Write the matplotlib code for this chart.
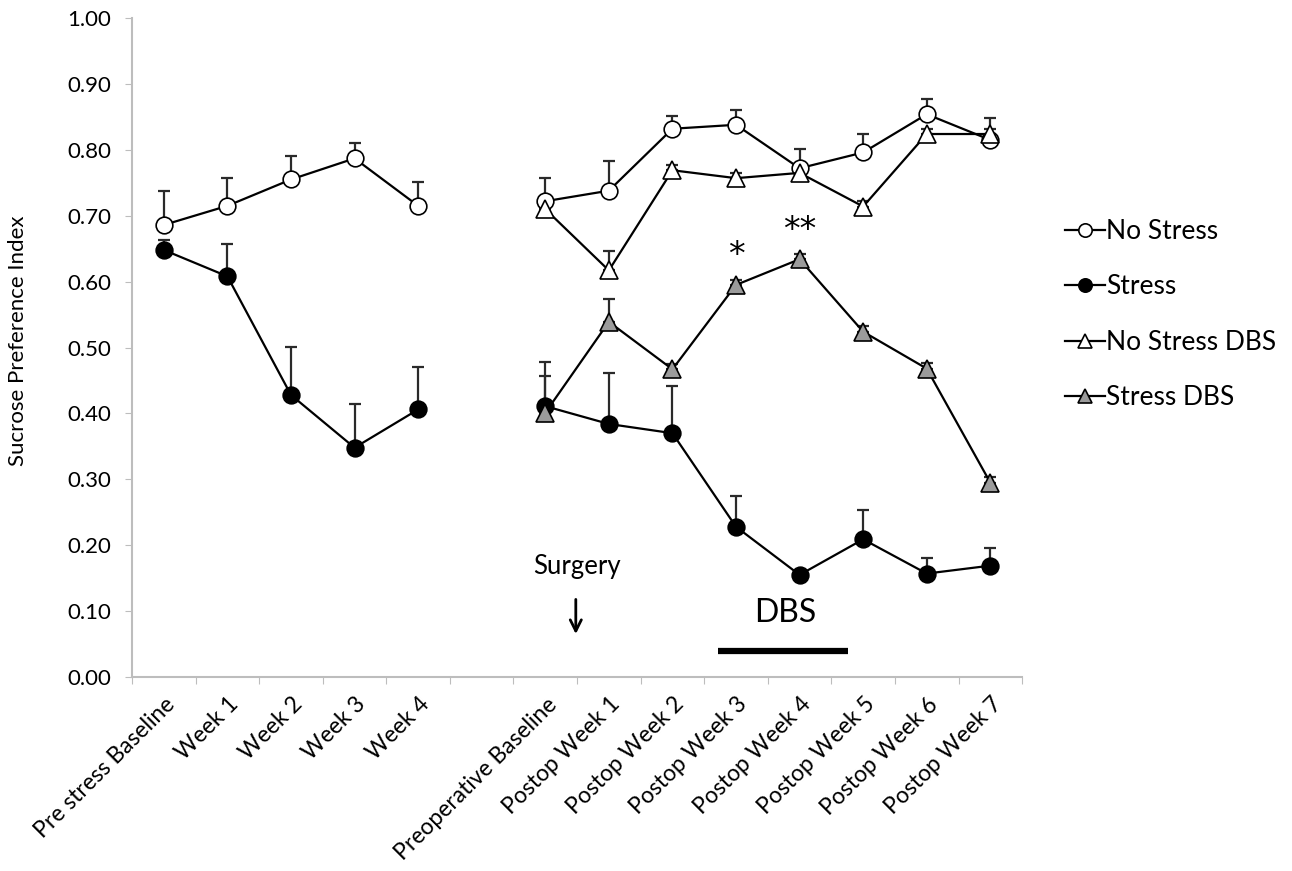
import numpy as np
import matplotlib
matplotlib.use("Agg")
import matplotlib.pyplot as plt
from matplotlib.transforms import ScaledTranslation

plt.rcParams['font.family'] = ['Lato', 'DejaVu Sans']

nan = np.nan

# categories (index 5 is the blank gap between the two phases)
categories = ['Pre stress Baseline', 'Week 1', 'Week 2', 'Week 3', 'Week 4', '',
              'Preoperative Baseline', 'Postop Week 1', 'Postop Week 2', 'Postop Week 3',
              'Postop Week 4', 'Postop Week 5', 'Postop Week 6', 'Postop Week 7']

# series values
no_stress = [0.686, 0.715, 0.755, 0.787, 0.715, nan,
             0.722, 0.738, 0.832, 0.838, 0.772, 0.796, 0.854, 0.815]
no_stress_err = [0.051, 0.043, 0.036, 0.024, 0.036, nan,
                 0.036, 0.045, 0.020, 0.022, 0.029, 0.028, 0.023, 0.034]
stress = [0.648, 0.608, 0.428, 0.348, 0.406, nan,
          0.411, 0.384, 0.370, 0.228, 0.155, 0.209, 0.157, 0.169]
stress_err = [0.015, 0.049, 0.073, 0.066, 0.065, nan,
              0.067, 0.078, 0.072, 0.047, 0.005, 0.045, 0.023, 0.027]
no_stress_dbs = [nan, nan, nan, nan, nan, nan,
                 0.710, 0.617, 0.769, 0.757, 0.765, 0.714, 0.824, 0.824]
no_stress_dbs_err = [nan, nan, nan, nan, nan, nan,
                     0.015, 0.029, 0.008, 0.008, 0.010, 0.008, 0.008, 0.008]
stress_dbs = [nan, nan, nan, nan, nan, nan,
              0.401, 0.539, 0.467, 0.595, 0.634, 0.524, 0.468, 0.295]
stress_dbs_err = [nan, nan, nan, nan, nan, nan,
                  0.056, 0.035, 0.008, 0.008, 0.008, 0.008, 0.008, 0.008]

x = np.arange(len(categories))

fig = plt.figure(figsize=(12.92, 8.71), dpi=100)
ax = fig.add_axes([0.1022, 0.2227, 0.6889, 0.7566])

series = [
    ('No Stress', no_stress, no_stress_err, 'o', 'white', 12),
    ('Stress', stress, stress_err, 'o', 'black', 12),
    ('No Stress DBS', no_stress_dbs, no_stress_dbs_err, '^', 'white', 12.5),
    ('Stress DBS', stress_dbs, stress_dbs_err, '^', '#9b9b9b', 12.5),
]

# error bars first (upper only), behind markers
for name, vals, errs, mk, fc, ms in series:
    v = np.array(vals, dtype=float)
    e = np.array(errs, dtype=float)
    ax.errorbar(x, v, yerr=[np.zeros_like(e), e], fmt='none', ecolor='#2a2a2a',
                elinewidth=1.6, capsize=4, capthick=1.6, zorder=1)

handles = []
for name, vals, errs, mk, fc, ms in series:
    h, = ax.plot(x, vals, color='black', lw=1.6, marker=mk, markersize=ms,
                 markerfacecolor=fc, markeredgecolor='black', markeredgewidth=1.2,
                 zorder=3, label=name)
    handles.append(h)

ax.set_xlim(-0.5, len(categories) - 0.5)
ax.set_ylim(0, 1.0)
ax.set_yticks(np.arange(0, 1.01, 0.1))
ax.set_yticklabels([f'{v:.2f}' for v in np.arange(0, 1.01, 0.1)], fontsize=16)
ax.set_ylabel('Sucrose Preference Index', fontsize=16)
ax.yaxis.set_label_coords(-0.117, 0.51)

# ticks between categories, labels at category centres
ax.set_xticks(np.arange(-0.5, len(categories), 1.0))
ax.set_xticklabels([])
ax.set_xticks(x, minor=True)
ax.set_xticklabels(categories, minor=True, rotation=45, ha='right',
                   rotation_mode='anchor', fontsize=16.5)
ax.tick_params(axis='x', which='minor', length=0, pad=12)
ax.tick_params(axis='x', which='major', length=5, color='#bdbdbd', direction='out')
ax.tick_params(axis='y', length=5, color='#bdbdbd', direction='out', pad=10)
offset = ScaledTranslation(0.5 / 100, 0, fig.dpi_scale_trans)
for lbl in ax.get_xticklabels(minor=True):
    lbl.set_transform(lbl.get_transform() + offset)

for s in ['top', 'right']:
    ax.spines[s].set_visible(False)
for s in ['left', 'bottom']:
    ax.spines[s].set_color('#bdbdbd')
    ax.spines[s].set_linewidth(1.5)

# annotations
ax.text(6.5, 0.168, 'Surgery', ha='center', va='center', fontsize=18.5)
ax.annotate('', xy=(6.48, 0.061), xytext=(6.48, 0.122),
            arrowprops=dict(arrowstyle='->', color='black', lw=2,
                            mutation_scale=20))
ax.text(9.78, 0.097, 'DBS', ha='center', va='center', fontsize=23)
ax.plot([8.71, 10.76], [0.04, 0.04], color='black', lw=4.5, solid_capstyle='butt')
ax.text(9.0, 0.640, '*', ha='center', va='center', fontsize=24, family='DejaVu Sans')
ax.text(10.0, 0.677, '**', ha='center', va='center', fontsize=24, family='DejaVu Sans')

leg = ax.legend(handles=handles, loc='center left', bbox_to_anchor=(1.022, 0.55),
                frameon=False, fontsize=19, labelspacing=1.15, handlelength=1.5,
                handletextpad=0.05, markerscale=0.8)

fig.savefig('out.png', dpi=100)
